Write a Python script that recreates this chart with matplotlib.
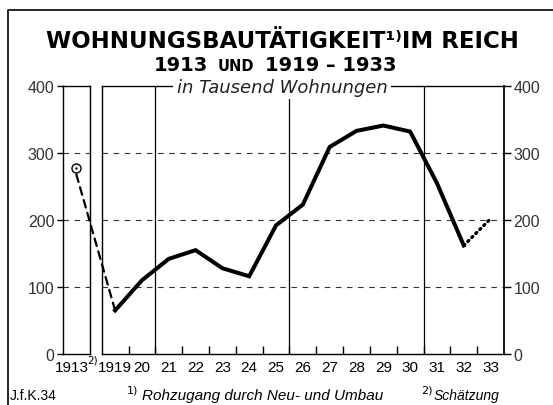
import matplotlib
matplotlib.use("Agg")
from matplotlib import pyplot as plt
from matplotlib.patches import ConnectionPatch
from matplotlib.lines import Line2D

# Wohnungsbautätigkeit im Reich, in Tausend Wohnungen
year_1913 = 1913
value_1913 = 277
years = [1919, 1920, 1921, 1922, 1923, 1924, 1925, 1926, 1927, 1928, 1929, 1930, 1931, 1932]
values = [65, 110, 142, 155, 128, 116, 192, 223, 309, 333, 341, 332, 255, 162]
est_years = [1932, 1933]          # 2) Schätzung
est_values = [162, 202]
year_labels = ["1919", "20", "21", "22", "23", "24", "25", "26", "27", "28", "29", "30", "31", "32", "33"]
y_ticks = [0, 100, 200, 300, 400]
section_lines = [1920.5, 1925.5, 1930.5]

W, H = 553, 406
def fx(x): return x / W
def fy(y): return 1 - y / H

narrow = ["Liberation Sans", "DejaVu Sans"]
plt.rcParams["font.family"] = ["DejaVu Sans"]

fig = plt.figure(figsize=(W / 100, H / 100), dpi=100)
fig.patch.set_facecolor("white")

top, bottom = 87, 355
ax0 = fig.add_axes([fx(62.7), fy(bottom), (90 - 62.7) / W, (bottom - top) / H])
ax = fig.add_axes([fx(101.7), fy(bottom), (504 - 101.7) / W, (bottom - top) / H])

grid_kw = dict(color="#333333", lw=0.8, ls=(0, (5, 5)), zorder=1)
for a in (ax0, ax):
    a.set_ylim(0, 400)
    for s in a.spines.values():
        s.set_linewidth(1.0)
        s.set_color("black")
    for v in y_ticks[1:-1]:
        a.axhline(v, **grid_kw)

# 1913 box
ax0.set_xlim(year_1913 - 0.5, year_1913 + 0.5)
ax0.set_xticks([year_1913 - 0.18])
ax0.set_xticklabels(["1913"], family=narrow, fontsize=11)
ax0.tick_params(axis="x", length=0, pad=4)
ax0.set_yticks(y_ticks)
ax0.set_yticklabels([str(v) for v in y_ticks], family=narrow, fontsize=11.5, color="#333333")
ax0.tick_params(axis="y", direction="out", length=4, width=1.0, pad=2)
ax0.plot([year_1913], [value_1913], marker="o", ms=6.5, mfc="white", mec="black", mew=1.0, zorder=5)
ax0.plot([year_1913], [value_1913], marker=".", ms=1.5, color="black", zorder=6)

# main panel 1919-1933
ax.set_xlim(years[0] - 0.5, est_years[-1] + 0.5)
ax.set_xticks(range(years[0], est_years[-1] + 1))
ax.set_xticklabels(year_labels, family=narrow, fontsize=11)
ax.set_xticks([y + 0.5 for y in range(years[0], est_years[-1])], minor=True)
ax.tick_params(axis="x", which="major", length=0, pad=4)
ax.tick_params(axis="x", which="minor", direction="in", length=6, width=1.0)
ax.set_yticks(y_ticks)
ax.set_yticklabels([str(v) for v in y_ticks], family=narrow, fontsize=11.5, color="#333333")
ax.tick_params(axis="y", left=False, labelleft=False, right=True, labelright=True,
               direction="out", length=5, width=1.0, pad=2)
ax.spines["right"].set_linewidth(1.3)
for xv in section_lines:
    ax.axvline(xv, color="black", lw=0.9, zorder=1)

ax.plot(years, values, color="black", lw=2.9, solid_joinstyle="miter", zorder=4)
ax.plot(est_years, est_values, color="black", lw=2.4, ls=(0, (0.4, 1.3)),
        dash_capstyle="round", zorder=4)

# dashed link from 1913 to 1919
con = ConnectionPatch(xyA=(year_1913, value_1913 - 9), coordsA=ax0.transData,
                      xyB=(years[0], values[0]), coordsB=ax.transData,
                      color="black", lw=1.6, ls=(0, (3.5, 2.5)), zorder=3)
fig.add_artist(con)

# titles
fig.text(fx(282), fy(41), "WOHNUNGSBAUTÄTIGKEIT\u00b9\u207eIM REICH", ha="center", va="center",
         fontsize=16.5, weight="bold")
fig.text(fx(208), fy(70.7), "1913", ha="right", va="baseline", fontsize=14, weight="bold")
fig.text(fx(236), fy(70.7), "UND", ha="center", va="baseline", fontsize=10.5, weight="bold")
fig.text(fx(265), fy(70.7), "1919 \u2013 1933", ha="left", va="baseline", fontsize=14, weight="bold")
fig.text(fx(282), fy(88), "in Tausend Wohnungen", ha="center", va="center", fontsize=13,
         style="italic", color="#222222",
         bbox=dict(facecolor="white", edgecolor="none", pad=2.5))

# footnote marks and notes
fig.text(fx(87), fy(361), "2)", ha="left", va="center", fontsize=7.5)
fig.text(fx(10), fy(396), "J.f.K.34", ha="left", va="center", fontsize=10, family=narrow)
fig.text(fx(127), fy(391), "1)", ha="left", va="center", fontsize=8)
fig.text(fx(142), fy(396), "Rohzugang durch Neu- und Umbau", ha="left", va="center",
         fontsize=11, style="italic", family=narrow)
fig.text(fx(421), fy(391), "2)", ha="left", va="center", fontsize=8)
fig.text(fx(434), fy(396), "Schätzung", ha="left", va="center",
         fontsize=10, style="italic", family=narrow)

# outer frame (top and left edge)
fig.add_artist(Line2D([fx(8), fx(8), 1.0], [0.0, fy(11), fy(11)], color="black", lw=1.2))

fig.savefig("out.png", dpi=100, facecolor="white")
